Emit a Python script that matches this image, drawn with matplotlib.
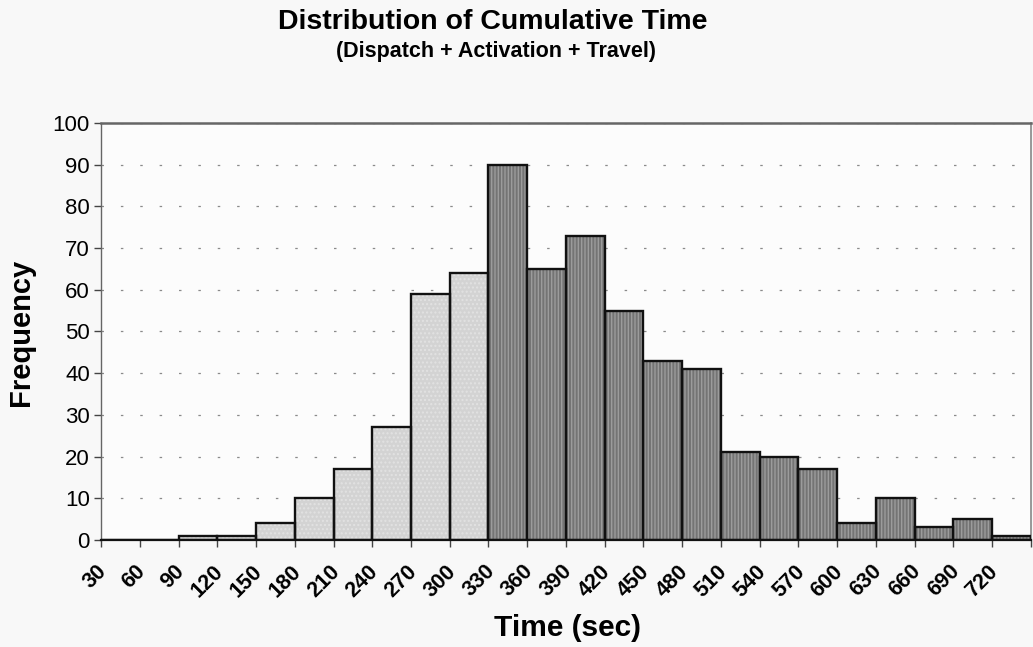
import numpy as np
import matplotlib
matplotlib.use("Agg")
from matplotlib import pyplot as plt
from matplotlib.transforms import ScaledTranslation

# histogram of cumulative time (dispatch + activation + travel)
time_bins = [30, 60, 90, 120, 150, 180, 210, 240, 270, 300, 330, 360,
             390, 420, 450, 480, 510, 540, 570, 600, 630, 660, 690, 720]
frequency = [0, 0, 1, 1, 4, 10, 17, 27, 59, 64, 90, 65,
             73, 55, 43, 41, 21, 20, 17, 4, 10, 3, 5, 1]
split_at = 330  # bins from here on are drawn dark

plt.rcParams['font.family'] = ['Liberation Sans', 'DejaVu Sans']

fig = plt.figure(figsize=(10.33, 6.47), dpi=100, facecolor='#f8f8f8')
ax = fig.add_axes([0.0978, 0.1654, 0.9002, 0.6445], facecolor='#fcfcfc')

x = np.arange(len(time_bins))
light = np.array(time_bins) < split_at
face = np.where(light, '#d3d3d3', '#747474')
hatch_col = np.where(light, '#e2e2e2', '#9c9c9c')
hatches = np.where(light, '....', '|||||')

# textured fill first, then the black outlines on top
for xi, h, fc, hc, ht in zip(x, frequency, face, hatch_col, hatches):
    ax.bar(xi, h, width=1.0, color=fc, edgecolor=hc, hatch=ht, linewidth=0, zorder=2)
ax.bar(x, frequency, width=1.0, fill=False, edgecolor='#111111', linewidth=1.7, zorder=3)

ax.set_xlim(-0.5, len(time_bins) - 0.5)
ax.set_ylim(0, 100)
ax.set_yticks(np.arange(0, 101, 10))
ax.yaxis.grid(True, color='#8a8a8a', linestyle=(0, (2, 13.5)), linewidth=0.9, zorder=1)

# labels centred on categories, tick marks on category boundaries
ax.set_xticks(x)
ax.set_xticklabels([str(t) for t in time_bins], rotation=45, ha='right', va='top',
                   fontsize=15.5, fontweight='bold')
ax.set_xticks(np.arange(-0.5, len(time_bins)), minor=True)
ax.tick_params(axis='x', which='major', length=0, pad=15)
ax.tick_params(axis='x', which='minor', length=5, width=1, color='#444444', direction='out')
ax.tick_params(axis='y', length=5, width=1, color='#444444', labelsize=16, pad=3)
for lbl in ax.get_xticklabels():
    lbl.set_transform(lbl.get_transform() + ScaledTranslation(-0.09, 0, fig.dpi_scale_trans))

ax.spines['top'].set_color('#666666')
ax.spines['top'].set_linewidth(1.8)
ax.spines['right'].set_color('#888888')
ax.spines['right'].set_linewidth(1.2)
ax.spines['left'].set_color('#666666')
ax.spines['left'].set_linewidth(1.0)
ax.spines['bottom'].set_color('#111111')
ax.spines['bottom'].set_linewidth(1.6)
ax.spines['bottom'].set_zorder(4)

fig.text(0.477, 0.966, "Distribution of Cumulative Time", ha='center', va='center',
         fontsize=20.5, fontweight='bold')
fig.text(0.480, 0.921, "(Dispatch + Activation + Travel)", ha='center', va='center',
         fontsize=15.5, fontweight='bold')
fig.text(0.549, 0.030, "Time (sec)", ha='center', va='center',
         fontsize=21.5, fontweight='bold')
fig.text(0.020, 0.487, "Frequency", ha='center', va='center', rotation=90,
         fontsize=21, fontweight='bold')

fig.savefig("out.png", dpi=100, facecolor=fig.get_facecolor())
